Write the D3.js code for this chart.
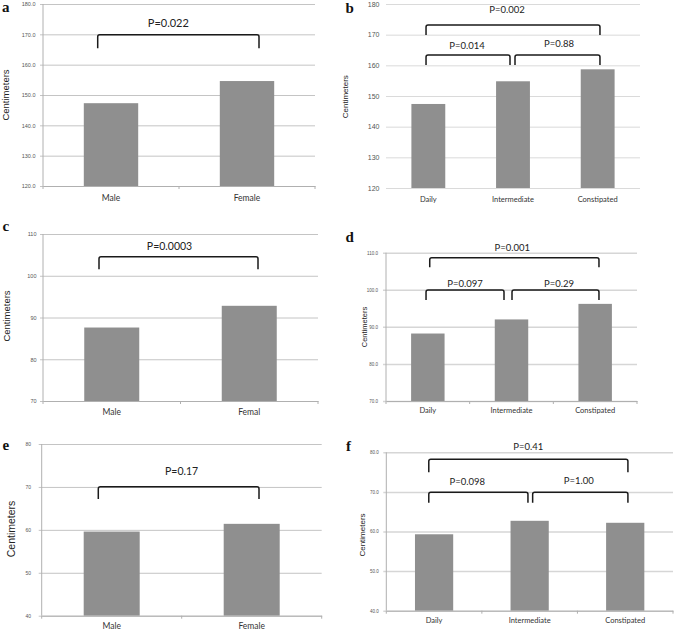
<!DOCTYPE html>
<html><head><meta charset="utf-8">
<script src="https://cdn.jsdelivr.net/npm/d3@7"></script>
<style>
html,body{margin:0;padding:0;background:#fff;}
svg{display:block;}
</style></head>
<body>
<svg id="chart" width="676" height="631"></svg>
<script>
// ---------- DATA ----------
const sexCategories = ["Male", "Female"];
const sexCategoriesC = ["Male", "Femal"];
const stoolCategories = ["Daily", "Intermediate", "Constipated"];

const heightBySex = [147.3, 154.6];
const heightByStool = [147.4, 154.8, 158.7];
const waistBySex = [87.6, 92.8];
const waistByStool = [88.2, 92.0, 96.2];
const armBySex = [59.6, 61.4];
const armByStool = [59.3, 62.7, 62.2];

const ticksHeight = [120, 130, 140, 150, 160, 170, 180];
const ticksWaist = [70, 80, 90, 100, 110];
const ticksArm = [40, 50, 60, 70, 80];

const pA = [{from: 0, to: 1, label: "P=0.022"}];
const pB = [{from: 0, to: 2, label: "P=0.002"}, {from: 0, to: 1, label: "P=0.014"}, {from: 1, to: 2, label: "P=0.88"}];
const pC = [{from: 0, to: 1, label: "P=0.0003"}];
const pD = [{from: 0, to: 2, label: "P=0.001"}, {from: 0, to: 1, label: "P=0.097"}, {from: 1, to: 2, label: "P=0.29"}];
const pE = [{from: 0, to: 1, label: "P=0.17"}];
const pF = [{from: 0, to: 2, label: "P=0.41"}, {from: 0, to: 1, label: "P=0.098"}, {from: 1, to: 2, label: "P=1.00"}];

const panelLetters = ["a", "b", "c", "d", "e", "f"];
const yTitle = "Centimeters";

// ---------- LAYOUT ----------
const panels = [
  {letter: panelLetters[0], letterPos: [2, 11.5], cats: sexCategories, vals: heightBySex, ticks: ticksHeight, fmt: ".1f",
   x0: 43, x1: 315, yTop: 4, yBot: 186, axes: true, grid: "#c4c4c4", gridW: 1,
   tickFont: 5.5, tickRight: 35.5, catFont: 8.5, catY: 201, titleFont: 9.5, titleX: 6, titleY: 95,
   pvals: pA, pFont: 11,
   br: [{y: 34.7, end: 48.3, dx0: -13.3, dx1: 12, ty: 27.3, tdx: -10}]},
  {letter: panelLetters[1], letterPos: [345.5, 12.7], cats: stoolCategories, vals: heightByStool, ticks: ticksHeight, fmt: "d",
   x0: 386, x1: 640, yTop: 4, yBot: 188, axes: false, grid: "#dadada", gridW: 1,
   tickFont: 7, tickRight: 379.5, catFont: 7.5, catY: 201.5, titleFont: 8, titleX: 345.5, titleY: 96.7,
   pvals: pB, pFont: 9.5,
   br: [{y: 25, end: 35, dx0: -2.3, dx1: 2.3, ty: 13.3, tdx: -6},
        {y: 55, end: 65, dx0: -2.3, dx1: -3, ty: 49, tdx: -1},
        {y: 55, end: 65, dx0: 2, dx1: 2.3, ty: 46.7, tdx: 1.5}]},
  {letter: panelLetters[2], letterPos: [2.5, 231], cats: sexCategoriesC, vals: waistBySex, ticks: ticksWaist, fmt: "d",
   x0: 43, x1: 318, yTop: 234, yBot: 401, axes: true, grid: "#c4c4c4", gridW: 1,
   tickFont: 5.5, tickRight: 36.5, catFont: 8.5, catY: 415, titleFont: 9.5, titleX: 6.3, titleY: 316,
   pvals: pC, pFont: 10.5,
   br: [{y: 256.7, end: 269.3, dx0: -12.75, dx1: 8.75, ty: 250, tdx: -9}]},
  {letter: panelLetters[3], letterPos: [345.5, 241.7], cats: stoolCategories, vals: waistByStool, ticks: ticksWaist, fmt: ".1f",
   x0: 386, x1: 637, yTop: 252.7, yBot: 401, axes: true, grid: "#d6d6d6", gridW: 1.5,
   tickFont: 4.5, tickRight: 378, catFont: 7.5, catY: 412.7, titleFont: 7.5, titleX: 364, titleY: 327,
   pvals: pD, pFont: 9.5,
   br: [{y: 257.7, end: 267.3, dx0: 1.9, dx1: 3.8, ty: 250.7, tdx: -2},
        {y: 290, end: 300, dx0: -1.8, dx1: -7.5, ty: 286.7, tdx: 0},
        {y: 290, end: 300, dx0: 0.5, dx1: 3.8, ty: 286.7, tdx: 3.5}]},
  {letter: panelLetters[4], letterPos: [2.5, 450], cats: sexCategories, vals: armBySex, ticks: ticksArm, fmt: "d",
   x0: 41.7, x1: 321.7, yTop: 444, yBot: 615.7, axes: true, grid: "#c4c4c4", gridW: 1,
   tickFont: 5, tickRight: 31, catFont: 8.5, catY: 629, titleFont: 10.5, titleX: 11.7, titleY: 529,
   pvals: pE, pFont: 10.5,
   br: [{y: 486.7, end: 499, dx0: -13.4, dx1: 7.3, ty: 475, tdx: 3}]},
  {letter: panelLetters[5], letterPos: [346, 450.7], cats: stoolCategories, vals: armByStool, ticks: ticksArm, fmt: ".1f",
   x0: 386.3, x1: 673, yTop: 452.3, yBot: 610.7, axes: true, grid: "#d6d6d6", gridW: 1.5,
   tickFont: 4.5, tickRight: 378.7, catFont: 7.5, catY: 623.3, titleFont: 8, titleX: 361.7, titleY: 535,
   pvals: pF, pFont: 9.5,
   br: [{y: 459.3, end: 472.3, dx0: -5.3, dx1: 2.7, ty: 450, tdx: 0},
        {y: 492.3, end: 502.7, dx0: -5.3, dx1: -1.7, ty: 485, tdx: -11},
        {y: 492.3, end: 502.7, dx0: 3, dx1: 2.7, ty: 484.3, tdx: -1.6}]}
];

const svg = d3.select("#chart");
const BAR = "#8f8f8f";
const sansCat = "Lato, 'Open Sans', sans-serif";
const sansTick = "'Liberation Sans', Arial, sans-serif";

panels.forEach(p => {
  const g = svg.append("g");
  const y = d3.scaleLinear().domain([p.ticks[0], p.ticks[p.ticks.length - 1]]).range([p.yBot, p.yTop]);
  const x = d3.scaleBand().domain(p.cats).range([p.x0, p.x1]).paddingInner(0.6).paddingOuter(0.3);
  const cx = i => x(p.cats[i]) + x.bandwidth() / 2;

  // gridlines + y tick labels
  const yAxis = d3.axisLeft(y).tickValues(p.ticks).tickFormat(d3.format(p.fmt))
    .tickSize(-(p.x1 - p.x0)).tickSizeOuter(0).tickPadding(p.x0 - p.tickRight);
  const ya = g.append("g").attr("transform", `translate(${p.x0},0)`).call(yAxis);
  ya.select(".domain").remove();
  ya.selectAll(".tick line").attr("stroke", p.grid).attr("stroke-width", p.gridW)
    .attr("x1", p.axes ? -3 : 0);
  ya.selectAll(".tick text").attr("font-family", sansTick).attr("font-size", p.tickFont).attr("fill", "#555");

  // bars
  g.selectAll("rect.bar").data(p.vals).enter().append("rect")
    .attr("x", (d, i) => x(p.cats[i])).attr("width", x.bandwidth())
    .attr("y", d => y(d)).attr("height", d => y(p.ticks[0]) - y(d))
    .attr("fill", BAR);

  // axes lines
  if (p.axes) {
    g.append("line").attr("x1", p.x0).attr("x2", p.x0).attr("y1", p.yTop).attr("y2", p.yBot)
      .attr("stroke", "#b0b0b0").attr("stroke-width", 1);
    const xa = d3.axisBottom(x).tickValues([]).tickSizeOuter(0);
    const xg = g.append("g").attr("transform", `translate(0,${p.yBot})`).call(xa);
    xg.select(".domain").attr("stroke", "#b0b0b0");
    const bounds = d3.range(p.cats.length + 1).map(i => p.x0 + i * x.step());
    g.selectAll("line.xt").data(bounds).enter().append("line")
      .attr("x1", d => d).attr("x2", d => d).attr("y1", p.yBot).attr("y2", p.yBot + 3)
      .attr("stroke", "#b0b0b0");
  }

  // category labels
  g.selectAll("text.cat").data(p.cats).enter().append("text")
    .attr("x", (d, i) => cx(i)).attr("y", p.catY).attr("text-anchor", "middle")
    .attr("font-family", sansCat).attr("font-size", p.catFont).attr("fill", "#333").text(d => d);

  // y title
  g.append("text").attr("transform", `translate(${p.titleX + p.titleFont * 0.35},${p.titleY}) rotate(-90)`)
    .attr("text-anchor", "middle").attr("font-family", sansTick).attr("font-size", p.titleFont)
    .attr("fill", "#222").text(yTitle);

  // panel letter
  g.append("text").attr("x", p.letterPos[0]).attr("y", p.letterPos[1])
    .attr("font-family", "'Liberation Serif', 'Times New Roman', serif").attr("font-weight", "bold")
    .attr("font-size", 15).attr("fill", "#111").text(p.letter);

  // brackets
  p.pvals.forEach((pv, k) => {
    const b = p.br[k];
    const xa0 = cx(pv.from) + b.dx0, xa1 = cx(pv.to) + b.dx1, r = 2;
    const path = `M${xa0},${b.end} L${xa0},${b.y + r} Q${xa0},${b.y} ${xa0 + r},${b.y} L${xa1 - r},${b.y} Q${xa1},${b.y} ${xa1},${b.y + r} L${xa1},${b.end}`;
    g.append("path").attr("d", path).attr("fill", "none").attr("stroke", "#1a1a1a").attr("stroke-width", 1.5);
    g.append("text").attr("x", (xa0 + xa1) / 2 + b.tdx).attr("y", b.ty).attr("text-anchor", "middle")
      .attr("font-family", sansCat).attr("font-size", p.pFont).attr("fill", "#222").text(pv.label);
  });
});
</script>
</body></html>
